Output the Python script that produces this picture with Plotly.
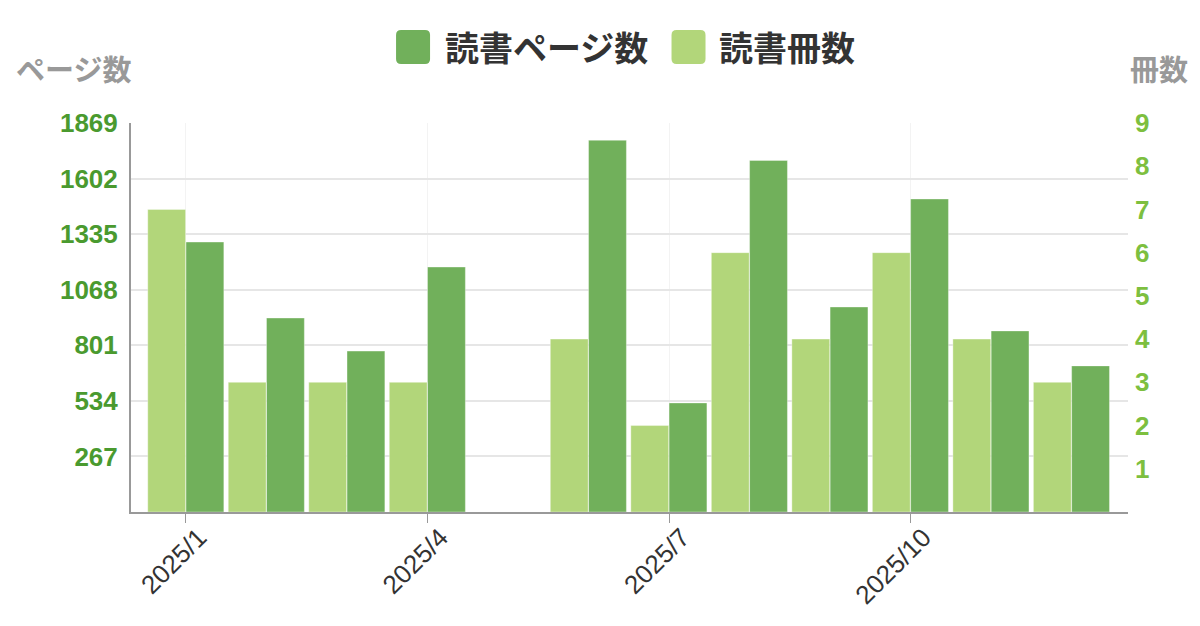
import plotly.graph_objects as go

# monthly reading log 2025 (May has no record)
months = ["2025/%d" % m for m in range(1, 13)]
pages = [1297, 932, 773, 1177, None, 1786, 524, 1689, 985, 1504, 870, 702]
books = [7, 3, 3, 3, None, 4, 2, 6, 4, 6, 4, 3]

page_ticks = [267, 534, 801, 1068, 1335, 1602, 1869]
book_ticks = [1, 2, 3, 4, 5, 6, 7, 8, 9]
quarter_ticks = ["2025/1", "2025/4", "2025/7", "2025/10"]

DARK = "#71b05b"
LIGHT = "#b2d67a"
FONT = "Noto Sans CJK JP"
NUM_FONT = "Liberation Sans"

fig = go.Figure()

fig.add_trace(go.Bar(
    x=months, y=books, name="読書冊数", yaxis="y2",
    marker=dict(color=LIGHT, line=dict(color="rgba(255,255,255,0.35)", width=1)),
    width=0.47, offset=-0.475,
))
fig.add_trace(go.Bar(
    x=months, y=pages, name="読書ページ数",
    marker=dict(color=DARK, line=dict(color="rgba(255,255,255,0.35)", width=1)),
    width=0.47, offset=0.0,
))

# legend drawn by hand so the swatches can be big rounded squares
rounded = "M -12 -17 L 12 -17 Q 17 -17 17 -12 L 17 12 Q 17 17 12 17 L -12 17 Q -17 17 -17 12 L -17 -12 Q -17 -17 -12 -17 Z"
for cx, col in [(0.2829, DARK), (0.5592, LIGHT)]:
    fig.add_shape(type="path", path=rounded, xref="paper", yref="paper",
                  xsizemode="pixel", ysizemode="pixel", xanchor=cx, yanchor=1.1954,
                  fillcolor=col, line=dict(width=0), layer="above")
for tx, label in [(0.3129, "読書ページ数"), (0.5878, "読書冊数")]:
    fig.add_annotation(text="<b>%s</b>" % label, xref="paper", yref="paper",
                       x=tx, y=1.1954, xanchor="left", yanchor="middle", showarrow=False,
                       font=dict(family=FONT, size=34, color="#333333"))

# axis titles placed above the axes
fig.add_annotation(text="<b>ページ数</b>", xref="paper", yref="paper", x=-0.1174, y=1.1414,
                   xanchor="left", yanchor="middle", showarrow=False,
                   font=dict(family=FONT, size=29, color="#999999"))
fig.add_annotation(text="<b>冊数</b>", xref="paper", yref="paper", x=1.0, y=1.1414,
                   xanchor="left", yanchor="middle", showarrow=False,
                   font=dict(family=FONT, size=29, color="#999999"))

fig.update_layout(
    width=1200, height=626,
    margin=dict(l=123, r=80, t=115, b=122),
    paper_bgcolor="white", plot_bgcolor="white",
    showlegend=False,
    barmode="overlay",
    font=dict(family=FONT),
    xaxis=dict(
        type="category", categoryorder="array", categoryarray=months,
        range=[-0.683, 11.70], automargin=False,
        tickmode="array", tickvals=quarter_ticks, ticktext=quarter_ticks,
        tickangle=-45, tickfont=dict(family=NUM_FONT, size=26, color="#333333"),
        ticklabelshift=13, ticklabelstandoff=-11,
        ticks="outside", ticklen=9, tickcolor="#999999",
        showgrid=True, gridcolor="#f3f3f3", gridwidth=1,
        showline=True, linecolor="#999999", linewidth=2,
    ),
    yaxis=dict(
        range=[0, 1869], tickmode="array", tickvals=page_ticks, automargin=False,
        tickfont=dict(family=NUM_FONT, size=26, color="#4a9a2f", weight="bold"),
        ticklabelstandoff=6,
        showgrid=True, gridcolor="#e6e6e6", gridwidth=2,
        showline=True, linecolor="#999999", linewidth=2,
        zeroline=False,
    ),
    yaxis2=dict(
        overlaying="y", side="right", automargin=False,
        range=[0, 9], tickmode="array", tickvals=book_ticks,
        tickfont=dict(family=NUM_FONT, size=26, color="#7dbf3f", weight="bold"),
        ticklabelstandoff=6,
        showgrid=False, showline=False, zeroline=False,
    ),
)

fig.write_html("out.html")
